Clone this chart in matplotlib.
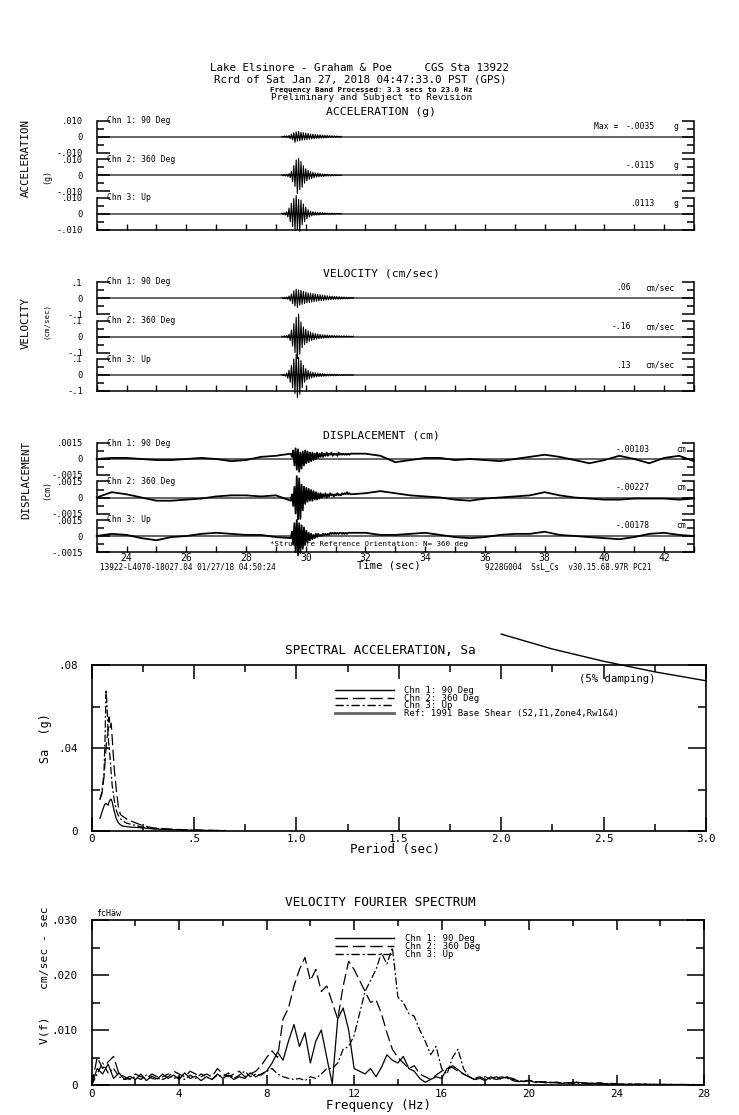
import numpy as np
import matplotlib
matplotlib.use("Agg")
import matplotlib.pyplot as plt
from matplotlib.lines import Line2D

plt.rcParams['font.family'] = ['DejaVu Sans Mono']

# ---------------- DATA ----------------
channels = ["Chn 1: 90 Deg", "Chn 2: 360 Deg", "Chn 3: Up"]

# time histories: burst samples (dt = 0.04 s) starting at burst_start
acc_burst_start = 29.2
acc_ch1 = [0.0002, -0.0003, 0.0004, -0.0003, 0.0005, -0.0006, 0.0008, -0.0012, 0.0015, -0.0020,
           0.0025, -0.0035, 0.0030, -0.0028, 0.0032, -0.0025, 0.0028, -0.0022, 0.0025, -0.0020,
           0.0022, -0.0018, 0.0020, -0.0015, 0.0016, -0.0014, 0.0015, -0.0012, 0.0013, -0.0010,
           0.0012, -0.0010, 0.0011, -0.0009, 0.0010, -0.0008, 0.0009, -0.0007, 0.0008, -0.0006,
           0.0007, -0.0006, 0.0006, -0.0005, 0.0005, -0.0004, 0.0004, -0.0004, 0.0003, -0.0003, 0.0002]
acc_ch2 = [0.0003, -0.0004, 0.0005, -0.0005, 0.0006, -0.0008, 0.0010, -0.0015, 0.0025, -0.0040,
           0.0060, -0.0070, 0.0095, -0.0115, 0.0105, -0.0090, 0.0085, -0.0075, 0.0060, -0.0050,
           0.0040, -0.0035, 0.0030, -0.0025, 0.0022, -0.0020, 0.0018, -0.0015, 0.0014, -0.0012,
           0.0012, -0.0010, 0.0010, -0.0009, 0.0008, -0.0008, 0.0007, -0.0006, 0.0006, -0.0005,
           0.0005, -0.0005, 0.0004, -0.0004, 0.0004, -0.0003, 0.0003, -0.0003, 0.0002, -0.0002, 0.0001]
acc_ch3 = [0.0003, -0.0004, 0.0006, -0.0008, 0.0012, -0.0020, 0.0035, -0.0050, 0.0065, -0.0080,
           0.0095, -0.0105, 0.0113, -0.0100, 0.0090, -0.0110, 0.0085, -0.0070, 0.0060, -0.0050,
           0.0040, -0.0032, 0.0025, -0.0020, 0.0016, -0.0014, 0.0012, -0.0010, 0.0010, -0.0009,
           0.0008, -0.0008, 0.0007, -0.0006, 0.0006, -0.0005, 0.0005, -0.0004, 0.0004, -0.0004,
           0.0003, -0.0003, 0.0003, -0.0003, 0.0002, -0.0002, 0.0002, -0.0002, 0.0002, -0.0001, 0.0001]

vel_burst_start = 29.2
vel_ch1 = [0.002, -0.003, 0.004, -0.005, 0.006, -0.008, 0.012, -0.018, 0.025, -0.035,
           0.045, -0.050, 0.055, -0.060, 0.050, -0.045, 0.048, -0.040, 0.042, -0.035,
           0.038, -0.030, 0.032, -0.028, 0.030, -0.025, 0.027, -0.022, 0.025, -0.020,
           0.022, -0.018, 0.020, -0.016, 0.018, -0.015, 0.016, -0.013, 0.014, -0.012,
           0.012, -0.010, 0.011, -0.009, 0.010, -0.008, 0.009, -0.008, 0.008, -0.007,
           0.007, -0.006, 0.006, -0.005, 0.005, -0.005, 0.004, -0.004, 0.004, -0.003, 0.003]
vel_ch2 = [0.002, -0.003, 0.004, -0.005, 0.006, -0.010, 0.015, -0.025, 0.040, -0.060,
           0.080, -0.100, 0.120, -0.160, 0.140, -0.110, 0.090, -0.070, 0.060, -0.050,
           0.045, -0.040, 0.035, -0.030, 0.028, -0.025, 0.022, -0.020, 0.018, -0.016,
           0.015, -0.014, 0.013, -0.012, 0.011, -0.010, 0.010, -0.009, 0.009, -0.008,
           0.008, -0.007, 0.007, -0.006, 0.006, -0.006, 0.005, -0.005, 0.005, -0.004,
           0.004, -0.004, 0.004, -0.003, 0.003, -0.003, 0.003, -0.003, 0.002, -0.002, 0.002]
vel_ch3 = [0.002, -0.003, 0.005, -0.008, 0.012, -0.020, 0.030, -0.045, 0.060, -0.080,
           0.100, -0.115, 0.130, -0.140, 0.110, -0.120, 0.090, -0.080, 0.060, -0.045,
           0.040, -0.032, 0.028, -0.024, 0.020, -0.018, 0.016, -0.014, 0.013, -0.012,
           0.011, -0.010, 0.009, -0.009, 0.008, -0.008, 0.007, -0.007, 0.006, -0.006,
           0.006, -0.005, 0.005, -0.005, 0.004, -0.004, 0.004, -0.004, 0.003, -0.003,
           0.003, -0.003, 0.003, -0.002, 0.002, -0.002, 0.002, -0.002, 0.002, -0.001, 0.001]

# displacement: coarse samples every 0.5 s before (23-29.5) and after (31.5-43) the burst
disp_pre_start, disp_burst_start, disp_post_start = 23.0, 29.5, 31.5
disp_ch1_pre = [0.0, 0.0001, 0.0001, 0.0, -0.0001, -0.0001, 0.0, 0.0001, 0.0, -0.0002, -0.0001, 0.0002, 0.0003, 0.0005]
disp_ch1_burst = [0.0005, 0.0002, 0.0008, -0.0006, 0.0010, -0.0010, 0.0009, -0.0012, 0.0006, -0.0009,
                  0.0007, -0.0006, 0.0008, -0.0004, 0.0007, -0.0003, 0.0006, -0.0002, 0.0006, -0.0001,
                  0.0005, 0.0000, 0.0006, 0.0001, 0.0005, 0.0002, 0.0006, 0.0002, 0.0005, 0.0003,
                  0.0006, 0.0003, 0.0005, 0.0004, 0.0006, 0.0003, 0.0005, 0.0004, 0.0005, 0.0003,
                  0.0006, 0.0004, 0.0005, 0.0004, 0.0005, 0.0004, 0.0005, 0.0004, 0.0005, 0.0004, 0.0005]
disp_ch1_post = [0.0005, 0.0005, 0.0003, -0.0003, -0.0001, 0.0001, 0.0001, -0.0001, 0.0, -0.0001, -0.0002, 0.0,
                 0.0002, 0.0004, 0.0002, -0.0001, -0.0004, -0.0001, 0.0003, 0.0, -0.0004, 0.0001, 0.0003, -0.0002]
disp_ch2_pre = [0.0, 0.0005, 0.0003, 0.0, -0.0003, -0.0003, -0.0002, -0.0001, 0.0001, 0.0002, 0.0002, 0.0001, 0.0002, -0.0003]
disp_ch2_burst = [-0.0003, 0.0003, -0.0008, 0.0010, -0.0015, 0.0020, -0.0023, 0.0018, -0.0020, 0.0012,
                  -0.0012, 0.0010, -0.0006, 0.0009, -0.0004, 0.0008, -0.0003, 0.0007, -0.0003, 0.0006,
                  -0.0002, 0.0005, -0.0002, 0.0004, -0.0001, 0.0004, 0.0, 0.0003, 0.0001, 0.0004,
                  0.0, 0.0003, 0.0001, 0.0004, 0.0002, 0.0003, 0.0001, 0.0003, 0.0002, 0.0004,
                  0.0002, 0.0003, 0.0002, 0.0004, 0.0003, 0.0004, 0.0003, 0.0005, 0.0003, 0.0004, 0.0003]
disp_ch2_post = [0.0003, 0.0004, 0.0006, 0.0004, 0.0002, 0.0001, 0.0, -0.0002, -0.0003, -0.0001, 0.0, 0.0001,
                 0.0002, 0.0005, 0.0002, 0.0, -0.0001, -0.0002, -0.0002, -0.0001, -0.0001, -0.0001, -0.0002, -0.0001]
disp_ch3_pre = [0.0, 0.0002, 0.0001, -0.0002, -0.0004, -0.0001, 0.0, 0.0002, 0.0003, 0.0002, 0.0001, 0.0001, -0.0001, -0.0002]
disp_ch3_burst = [-0.0002, 0.0004, -0.0008, 0.0012, -0.0015, 0.0015, -0.0018, 0.0012, -0.0016, 0.0010,
                  -0.0012, 0.0008, -0.0008, 0.0005, -0.0006, 0.0003, -0.0004, 0.0002, -0.0003, 0.0001,
                  -0.0002, 0.0002, -0.0001, 0.0002, 0.0, 0.0001, 0.0, 0.0002, 0.0001, 0.0002,
                  0.0001, 0.0002, 0.0001, 0.0003, 0.0002, 0.0003, 0.0002, 0.0003, 0.0002, 0.0003,
                  0.0002, 0.0003, 0.0003, 0.0002, 0.0003, 0.0002, 0.0003, 0.0002, 0.0003, 0.0003, 0.0003]
disp_ch3_post = [0.0003, 0.0003, 0.0001, 0.0001, 0.0002, 0.0003, 0.0001, -0.0001, -0.0002, -0.0001, 0.0001, 0.0002,
                 0.0002, 0.0004, 0.0001, 0.0, -0.0001, -0.0002, -0.0003, -0.0001, 0.0002, 0.0003, 0.0001, 0.0]

acc_max = ["-.0035", "-.0115", ".0113"]
vel_max = [".06", "-.16", ".13"]
disp_max = ["-.00103", "-.00227", "-.00178"]

# spectral acceleration (5% damping)
sa_period = [0.04, 0.05, 0.06, 0.065, 0.07, 0.075, 0.08, 0.085, 0.09, 0.095, 0.10, 0.11,
             0.12, 0.13, 0.14, 0.15, 0.17, 0.20, 0.25, 0.30, 0.40, 0.50, 0.60, 0.65]
sa_ch1 = [0.0061, 0.0090, 0.0120, 0.0130, 0.0133, 0.0128, 0.0125, 0.0140, 0.0150, 0.0153, 0.0140, 0.0095,
          0.0060, 0.0040, 0.0030, 0.0024, 0.0021, 0.0018, 0.0015, 0.0010, 0.0006, 0.0003, 0.0002, 0.0002]
sa_ch2 = [0.0150, 0.0180, 0.0260, 0.0330, 0.0400, 0.0450, 0.0480, 0.0550, 0.0500, 0.0520, 0.0450, 0.0300,
          0.0200, 0.0120, 0.0080, 0.0072, 0.0058, 0.0045, 0.0025, 0.0015, 0.0008, 0.0005, 0.0003, 0.0002]
sa_ch3 = [0.0153, 0.0190, 0.0280, 0.0440, 0.0680, 0.0600, 0.0460, 0.0400, 0.0350, 0.0280, 0.0220, 0.0150,
          0.0100, 0.0075, 0.0060, 0.0050, 0.0038, 0.0030, 0.0018, 0.0012, 0.0007, 0.0004, 0.0002, 0.0001]
ref_period = [2.0, 2.25, 2.5, 2.75, 3.0]
ref_sa = [0.0949, 0.0877, 0.0818, 0.0767, 0.0724]
sa_labels = ["Chn 1: 90 Deg", "Chn 2: 360 Deg", "Chn 3: Up", "Ref: 1991 Base Shear (S2,I1,Zone4,Rw1&4)"]

# velocity Fourier spectrum, sampled every 0.25 Hz from 0 to 28 Hz
fs_step = 0.25
fs_ch1 = [0.0000, 0.0030, 0.0020, 0.0038, 0.0012, 0.0022, 0.0010, 0.0016,
          0.0010, 0.0020, 0.0008, 0.0016, 0.0011, 0.0020, 0.0012, 0.0018,
          0.0010, 0.0022, 0.0012, 0.0016, 0.0008, 0.0015, 0.0010, 0.0020,
          0.0012, 0.0018, 0.0010, 0.0015, 0.0012, 0.0022, 0.0015, 0.0020,
          0.0025, 0.0040, 0.0060, 0.0045, 0.0080, 0.0110, 0.0070, 0.0095,
          0.0040, 0.0080, 0.0100, 0.0050, 0.0002, 0.0120, 0.0140, 0.0100,
          0.0030, 0.0025, 0.0020, 0.0030, 0.0015, 0.0032, 0.0055, 0.0045,
          0.0040, 0.0052, 0.0030, 0.0025, 0.0012, 0.0005, 0.0010, 0.0015,
          0.0012, 0.0030, 0.0035, 0.0028, 0.0020, 0.0015, 0.0010, 0.0012,
          0.0008, 0.0015, 0.0010, 0.0012, 0.0015, 0.0008, 0.0006, 0.0007,
          0.0008, 0.0005, 0.0006, 0.0004, 0.0005, 0.0004, 0.0003, 0.0004,
          0.0003, 0.0005, 0.0003, 0.0002, 0.0003, 0.0004, 0.0002, 0.0002,
          0.0001, 0.0002, 0.0001, 0.0001, 0.0002, 0.0001, 0.0001, 0.0001,
          0.0001, 0.0001, 0.0001, 0.0000, 0.0001, 0.0001, 0.0000, 0.0000,
          0.0000]
fs_ch2 = [0.0000, 0.0050, 0.0030, 0.0042, 0.0052, 0.0020, 0.0015, 0.0010,
          0.0020, 0.0015, 0.0012, 0.0020, 0.0015, 0.0010, 0.0015, 0.0025,
          0.0020, 0.0015, 0.0025, 0.0020, 0.0015, 0.0020, 0.0015, 0.0030,
          0.0020, 0.0015, 0.0020, 0.0025, 0.0015, 0.0020, 0.0025, 0.0035,
          0.0050, 0.0062, 0.0050, 0.0120, 0.0140, 0.0180, 0.0210, 0.0232,
          0.0190, 0.0210, 0.0170, 0.0180, 0.0150, 0.0120, 0.0180, 0.0225,
          0.0210, 0.0190, 0.0170, 0.0150, 0.0155, 0.0130, 0.0095, 0.0065,
          0.0050, 0.0040, 0.0030, 0.0035, 0.0020, 0.0015, 0.0010, 0.0018,
          0.0025, 0.0030, 0.0032, 0.0025, 0.0020, 0.0015, 0.0012, 0.0015,
          0.0010, 0.0012, 0.0015, 0.0010, 0.0014, 0.0012, 0.0008, 0.0006,
          0.0008, 0.0005, 0.0006, 0.0005, 0.0004, 0.0005, 0.0003, 0.0004,
          0.0004, 0.0006, 0.0003, 0.0003, 0.0004, 0.0003, 0.0002, 0.0002,
          0.0002, 0.0001, 0.0002, 0.0001, 0.0001, 0.0002, 0.0001, 0.0001,
          0.0001, 0.0001, 0.0000, 0.0001, 0.0001, 0.0000, 0.0000, 0.0000,
          0.0000]
fs_ch3 = [0.0000, 0.0020, 0.0040, 0.0022, 0.0030, 0.0015, 0.0010, 0.0012,
          0.0015, 0.0010, 0.0018, 0.0012, 0.0010, 0.0015, 0.0020, 0.0012,
          0.0015, 0.0010, 0.0018, 0.0012, 0.0020, 0.0015, 0.0010, 0.0018,
          0.0015, 0.0022, 0.0012, 0.0018, 0.0025, 0.0015, 0.0020, 0.0018,
          0.0025, 0.0030, 0.0020, 0.0015, 0.0012, 0.0010, 0.0012, 0.0008,
          0.0015, 0.0012, 0.0020, 0.0030, 0.0030, 0.0040, 0.0065, 0.0070,
          0.0090, 0.0130, 0.0170, 0.0190, 0.0210, 0.0240, 0.0220, 0.0250,
          0.0160, 0.0150, 0.0130, 0.0125, 0.0100, 0.0080, 0.0055, 0.0070,
          0.0030, 0.0020, 0.0050, 0.0065, 0.0030, 0.0015, 0.0010, 0.0012,
          0.0015, 0.0010, 0.0012, 0.0015, 0.0012, 0.0010, 0.0008, 0.0006,
          0.0009, 0.0006, 0.0005, 0.0006, 0.0004, 0.0005, 0.0004, 0.0003,
          0.0005, 0.0003, 0.0004, 0.0003, 0.0003, 0.0002, 0.0002, 0.0003,
          0.0002, 0.0001, 0.0001, 0.0002, 0.0001, 0.0001, 0.0001, 0.0001,
          0.0001, 0.0000, 0.0001, 0.0001, 0.0000, 0.0000, 0.0001, 0.0000,
          0.0000]

# ---------------- FIGURE ----------------
W, H = 739, 1115
fig = plt.figure(figsize=(W / 100, H / 100), dpi=100)
MONO = 'DejaVu Sans Mono'


def rect(l, t, r, b):
    return [l / W, 1 - b / H, (r - l) / W, (b - t) / H]


def ftxt(x, y, s, size, ha='left', va='center', rot=0, **kw):
    fig.text(x / W, 1 - y / H, s, fontsize=size, ha=ha, va=va, rotation=rot,
             family=MONO, **kw)


LONGDASH = (0, (9, 3.5))
DASHDOT = (0, (6, 2, 1.5, 2))

# header
ftxt(360, 68, "Lake Elsinore - Graham & Poe     CGS Sta 13922", 7.8, ha='center')
ftxt(360, 79, "Rcrd of Sat Jan 27, 2018 04:47:33.0 PST (GPS)", 7.8, ha='center')
ftxt(371, 90, "Frequency Band Processed: 3.3 secs to 23.0 Hz", 5.4, ha='center', weight='bold')
ftxt(372, 98, "Preliminary and Subject to Revision", 6.8, ha='center')

L, R, CH = 96.7, 694.0, 32.0
groups = [
    dict(title="ACCELERATION (g)", ty=112, ylab="ACCELERATION", yly=158, unit="(g)", uy=177, usize=6,
         tops=[120.7, 159.2, 197.7], A=0.010, ticklab=[".010", "0", "-.010"],
         data=[acc_ch1, acc_ch2, acc_ch3], start=acc_burst_start, maxs=acc_max,
         unit_txt="g", vr=655, ul=674),
    dict(title="VELOCITY (cm/sec)", ty=273, ylab="VELOCITY", yly=323, unit="(cm/sec)", uy=321, usize=5.3,
         tops=[282.0, 320.5, 359.0], A=0.1, ticklab=[".1", "0", "-.1"],
         data=[vel_ch1, vel_ch2, vel_ch3], start=vel_burst_start, maxs=vel_max,
         unit_txt="cm/sec", vr=631, ul=645),
    dict(title="DISPLACEMENT (cm)", ty=435, ylab="DISPLACEMENT", yly=480, unit="(cm)", uy=490, usize=6,
         tops=[443.0, 481.5, 520.0], A=0.0015, ticklab=[".0015", "0", "-.0015"],
         data=None, start=None, maxs=disp_max, unit_txt="cm", vr=650, ul=676),
]
disp_sets = [(disp_ch1_pre, disp_ch1_burst, disp_ch1_post),
             (disp_ch2_pre, disp_ch2_burst, disp_ch2_post),
             (disp_ch3_pre, disp_ch3_burst, disp_ch3_post)]

for gi, g in enumerate(groups):
    ftxt(381, g['ty'], g['title'], 8.2, ha='center')
    ftxt(26, g['yly'], g['ylab'], 7.8, rot=90, ha='center')
    ftxt(46.7, g['uy'], g['unit'], g['usize'], rot=90, ha='center')
    A = g['A']
    for ci in range(3):
        top = g['tops'][ci]
        ax = fig.add_axes(rect(L, top, R, top + CH))
        ax.set_xlim(23, 43)
        ax.set_ylim(-A, A)
        ax.axhline(0, color='0.35', lw=1.3, zorder=1)
        if g['data'] is not None:
            vals = np.array(g['data'][ci])
            t = g['start'] + 0.04 * np.arange(len(vals))
            ax.plot(t, vals, color='black', lw=0.8, clip_on=False, zorder=3)
        else:
            pre, burst, post = disp_sets[ci]
            t1 = disp_pre_start + 0.5 * np.arange(len(pre))
            t2 = disp_burst_start + 0.04 * np.arange(len(burst))
            t3 = disp_post_start + 0.5 * np.arange(len(post))
            tt = np.concatenate([t1, t2, t3])
            vv = np.concatenate([pre, burst, post])
            ax.plot(tt, vv, color='black', lw=1.3, clip_on=False, zorder=3)
        for sp in ['top', 'bottom']:
            ax.spines[sp].set_visible(False)
        for sp in ['left', 'right']:
            ax.spines[sp].set_linewidth(1.1)
        ax.set_yticks([-A, 0, A])
        ax.set_yticklabels(g['ticklab'][::-1])
        ax.set_yticks([-A / 2, A / 2], minor=True)
        ax.tick_params(axis='y', which='both', direction='in', left=True, right=True,
                       labelsize=6.3, pad=10, width=1.1)
        ax.tick_params(axis='y', which='major', length=9)
        ax.tick_params(axis='y', which='minor', length=5)
        if ci == 2:
            ax.spines['bottom'].set_visible(True)
            ax.spines['bottom'].set_linewidth(1.1)
            ax.set_xticks(np.arange(24, 43, 2))
            ax.set_xticks(np.arange(23, 44, 2), minor=True)
            ax.tick_params(axis='x', which='both', direction='in', length=4, width=1,
                           top=False, bottom=True, pad=1, labelsize=7)
            if gi != 2:
                ax.tick_params(axis='x', which='both', labelbottom=False)
        else:
            ax.tick_params(axis='x', which='both', bottom=False, top=False, labelbottom=False)
        ftxt(106.7, top, channels[ci], 5.8)
        ftxt(g['vr'], top + 6, g['maxs'][ci], 5.8, ha='right')
        ftxt(g['ul'], top + 6, g['unit_txt'], 5.8)
    if gi == 0:
        ftxt(594, g['tops'][0] + 6, "Max =", 5.8)

ftxt(270, 544, "*Structure Reference Orientation: N= 360 deg", 5.4)
ftxt(100, 567, "13922-L4070-18027.04 01/27/18 04:50:24", 5.5)
ftxt(389, 566, "Time (sec)", 7.6, ha='center')
ftxt(485, 567, "9228G004  SsL_Cs  v30.15.68.97R PC21", 5.5)

# ---------------- SPECTRAL ACCELERATION ----------------
ax = fig.add_axes(rect(91.7, 665, 706, 831))
ax.plot(sa_period, sa_ch1, color='black', lw=0.9)
ax.plot(sa_period, sa_ch2, color='black', lw=0.9, linestyle=LONGDASH)
ax.plot(sa_period, sa_ch3, color='black', lw=0.9, linestyle=DASHDOT)
ax.plot(ref_period, ref_sa, color='black', lw=1.0, clip_on=False)
ax.set_xlim(0, 3.0)
ax.set_ylim(0, 0.08)
ax.set_xticks(np.arange(0, 3.01, 0.5))
ax.set_xticklabels(["0", ".5", "1.0", "1.5", "2.0", "2.5", "3.0"])
ax.set_xticks(np.arange(0.25, 3.0, 0.5), minor=True)
ax.set_yticks([0, 0.04, 0.08])
ax.set_yticklabels(["0", ".04", ".08"])
ax.set_yticks([0.02, 0.06], minor=True)
ax.tick_params(which='both', direction='in', top=True, right=True, width=1.1)
ax.tick_params(axis='x', which='major', length=10, labelsize=7.8, pad=2)
ax.tick_params(axis='x', which='minor', length=5)
ax.tick_params(axis='y', which='major', length=13, labelsize=7.8, pad=10)
ax.tick_params(axis='y', which='minor', length=6)
for sp in ax.spines.values():
    sp.set_linewidth(1.2)
handles = [Line2D([], [], color='black', lw=1.0),
           Line2D([], [], color='black', lw=1.0, linestyle=LONGDASH),
           Line2D([], [], color='black', lw=1.0, linestyle=DASHDOT),
           Line2D([], [], color='0.4', lw=2.0)]
leg = ax.legend(handles, sa_labels, loc='upper left', bbox_to_anchor=(335 / W, 1 - 686 / H),
                bbox_transform=fig.transFigure, frameon=False, fontsize=6.4, borderpad=0,
                handlelength=6.6, handletextpad=1.2, labelspacing=-0.15, borderaxespad=0)
ftxt(380, 651, "SPECTRAL ACCELERATION, Sa", 9.2, ha='center')
ftxt(579, 679, "(5% damping)", 7.7)
ftxt(395, 850, "Period (sec)", 9, ha='center')
ftxt(45, 738, "Sa  (g)", 8.5, rot=90, ha='center')

# ---------------- VELOCITY FOURIER SPECTRUM ----------------
freq = fs_step * np.arange(len(fs_ch1))
ax = fig.add_axes(rect(91.7, 920, 704, 1085))
ax.plot(freq, fs_ch1, color='black', lw=0.9)
ax.plot(freq, fs_ch2, color='black', lw=0.9, linestyle=LONGDASH)
ax.plot(freq, fs_ch3, color='black', lw=0.9, linestyle=DASHDOT)
ax.set_xlim(0, 28)
ax.set_ylim(0, 0.030)
ax.set_xticks(np.arange(0, 28.1, 4))
ax.set_xticks(np.arange(2, 28, 4), minor=True)
ax.set_yticks([0, 0.010, 0.020, 0.030])
ax.set_yticklabels(["0", ".010", ".020", ".030"])
ax.set_yticks([0.005, 0.015, 0.025], minor=True)
ax.tick_params(which='both', direction='in', top=True, right=True, width=1.1)
ax.tick_params(axis='x', which='major', length=7, labelsize=7.8, pad=3)
ax.tick_params(axis='x', which='minor', length=4)
ax.tick_params(axis='y', which='major', length=12, labelsize=7.8, pad=10)
ax.tick_params(axis='y', which='minor', length=6)
for sp in ax.spines.values():
    sp.set_linewidth(1.2)
ax.legend(handles[:3], channels, loc='upper left', bbox_to_anchor=(335 / W, 1 - 934 / H),
          bbox_transform=fig.transFigure, frameon=False, fontsize=6.5, borderpad=0,
          handlelength=6.5, handletextpad=1.2, labelspacing=-0.1, borderaxespad=0)
ftxt(380, 903, "VELOCITY FOURIER SPECTRUM", 9.2, ha='center')
ftxt(378, 1105, "Frequency (Hz)", 9, ha='center')
ftxt(96, 914, "fcHäw", 6)
ftxt(45, 975, "V(f)    cm/sec - sec", 8.2, rot=90, ha='center')

fig.savefig("out.png", dpi=100)
